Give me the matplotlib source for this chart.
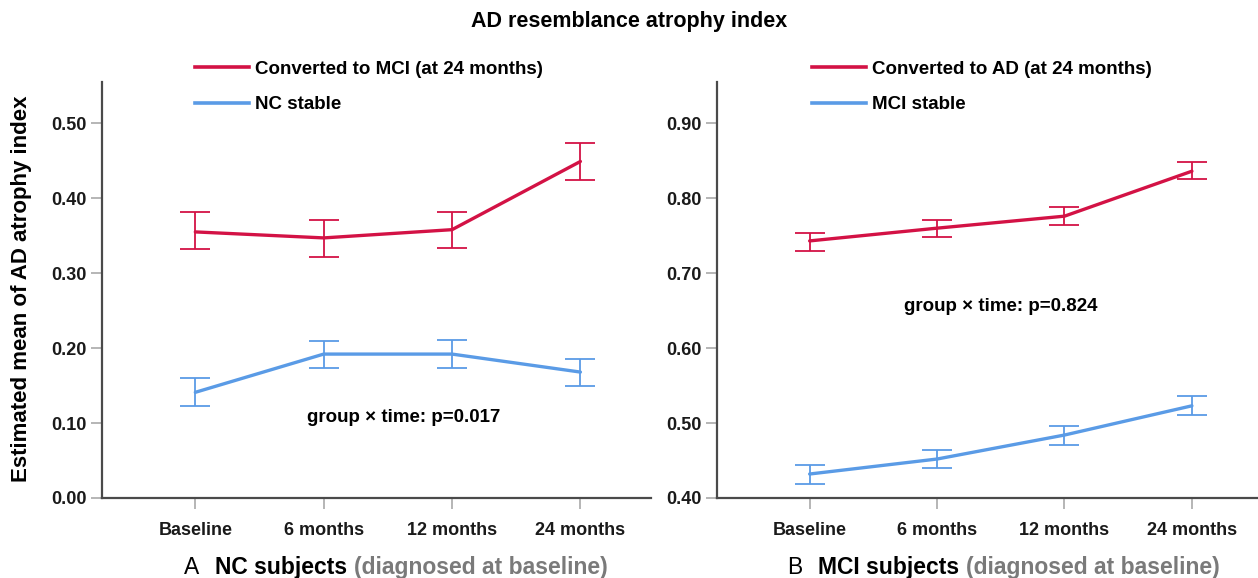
import matplotlib
matplotlib.use("Agg")
import matplotlib.pyplot as plt
from matplotlib.lines import Line2D

plt.rcParams["font.family"] = ["Liberation Sans", "DejaVu Sans"]

months = ["Baseline", "6 months", "12 months", "24 months"]

# panel A: NC subjects
nc_conv_mean = [0.355, 0.347, 0.358, 0.449]
nc_conv_lo = [0.332, 0.322, 0.333, 0.424]
nc_conv_hi = [0.381, 0.371, 0.382, 0.474]
nc_stable_mean = [0.141, 0.192, 0.192, 0.168]
nc_stable_lo = [0.123, 0.173, 0.174, 0.149]
nc_stable_hi = [0.160, 0.210, 0.211, 0.186]

# panel B: MCI subjects
mci_conv_mean = [0.743, 0.760, 0.776, 0.836]
mci_conv_lo = [0.730, 0.748, 0.764, 0.825]
mci_conv_hi = [0.753, 0.771, 0.788, 0.848]
mci_stable_mean = [0.432, 0.452, 0.484, 0.523]
mci_stable_lo = [0.419, 0.440, 0.471, 0.511]
mci_stable_hi = [0.444, 0.464, 0.496, 0.536]

C_RED = "#D31245"
C_BLUE = "#5A9BE6"
C_SPINE = "#4A4A4A"
C_TICK = "#B0B0B0"

W, H = 1258, 578
fig = plt.figure(figsize=(W / 100, H / 100), dpi=100)


def px_ax(x0, x1, y_top, y_bot):
    return fig.add_axes([x0 / W, 1 - y_bot / H, (x1 - x0) / W, (y_bot - y_top) / H])


def draw_panel(ax, series, ylim, yticks):
    x = list(range(len(months)))
    for mean, lo, hi, col in series:
        err = [[m - l for m, l in zip(mean, lo)], [h - m for m, h in zip(mean, hi)]]
        ax.errorbar(x, mean, yerr=err, fmt="none", ecolor=col, elinewidth=1.3,
                    capsize=10.8, capthick=1.3, zorder=3)
        ax.plot(x, mean, color=col, lw=2.4, zorder=4, solid_capstyle="round")
    ax.set_xlim(-0.727, 3.55)
    ax.set_ylim(*ylim)
    ax.set_xticks(x)
    ax.set_xticklabels(months, fontsize=13, fontweight="bold", color="#1a1a1a")
    ax.set_yticks(yticks)
    ax.set_yticklabels([f"{v:.2f}" for v in yticks], fontsize=13, fontweight="bold",
                       color="#1a1a1a")
    ax.tick_params(axis="both", color=C_TICK, width=1.3, length=8)
    ax.tick_params(axis="y", pad=3)
    ax.tick_params(axis="x", pad=9)
    for s in ("top", "right"):
        ax.spines[s].set_visible(False)
    for s in ("left", "bottom"):
        ax.spines[s].set_color(C_SPINE)
        ax.spines[s].set_linewidth(1.6)
    ax.patch.set_alpha(0)


axA = px_ax(102, 651, 82, 498)
draw_panel(axA, [(nc_conv_mean, nc_conv_lo, nc_conv_hi, C_RED),
                 (nc_stable_mean, nc_stable_lo, nc_stable_hi, C_BLUE)],
           (0, 0.555), [0.0, 0.1, 0.2, 0.3, 0.4, 0.5])
axB = px_ax(717, 1262, 82, 498)
draw_panel(axB, [(mci_conv_mean, mci_conv_lo, mci_conv_hi, C_RED),
                 (mci_stable_mean, mci_stable_lo, mci_stable_hi, C_BLUE)],
           (0.4, 0.955), [0.4, 0.5, 0.6, 0.7, 0.8, 0.9])

axA.text(1.62, 0.107, "group \u00d7 time: p=0.017", fontsize=13.5, fontweight="bold",
         ha="center", va="center")
axB.text(1.50, 0.655, "group \u00d7 time: p=0.824", fontsize=13.5, fontweight="bold",
         ha="center", va="center")

# legends
for x_left, labels in ((186, ["Converted to MCI (at 24 months)", "NC stable"]),
                       (803, ["Converted to AD (at 24 months)", "MCI stable"])):
    handles = [Line2D([], [], color=C_RED, lw=2.6), Line2D([], [], color=C_BLUE, lw=2.6)]
    fig.legend(handles, labels, loc="upper left",
               bbox_to_anchor=(x_left / W, 1 - 51 / H), bbox_transform=fig.transFigure,
               frameon=False, borderpad=0, handlelength=2.85, handletextpad=0.35,
               labelspacing=1.0, prop={"size": 13.5, "weight": "bold"})

fig.text(0.5, 1 - 22 / H, "AD resemblance atrophy index", fontsize=15.5,
         fontweight="bold", ha="center", va="center")
fig.text(22 / W, 0.5, "Estimated mean of AD atrophy index", fontsize=16,
         fontweight="bold", rotation=90, ha="center", va="center")

# panel captions: letter, bold subject group, grey qualifier
for x_left, letter, group in ((184, "A", "NC subjects"), (787, "B", "MCI subjects")):
    t1 = fig.text(x_left / W, 1 - 574 / H, letter, fontsize=16.5, va="baseline")
    t2 = axA.annotate(group, xy=(1, 0), xycoords=t1, xytext=(11, 0),
                      textcoords="offset points", fontsize=16.5, fontweight="bold",
                      va="bottom", annotation_clip=False)
    axA.annotate("(diagnosed at baseline)", xy=(1, 0), xycoords=t2, xytext=(5, 0),
                 textcoords="offset points", fontsize=16.5, fontweight="bold",
                 color="#7A7A7A", va="bottom", annotation_clip=False)

fig.savefig("out.png", dpi=100)
